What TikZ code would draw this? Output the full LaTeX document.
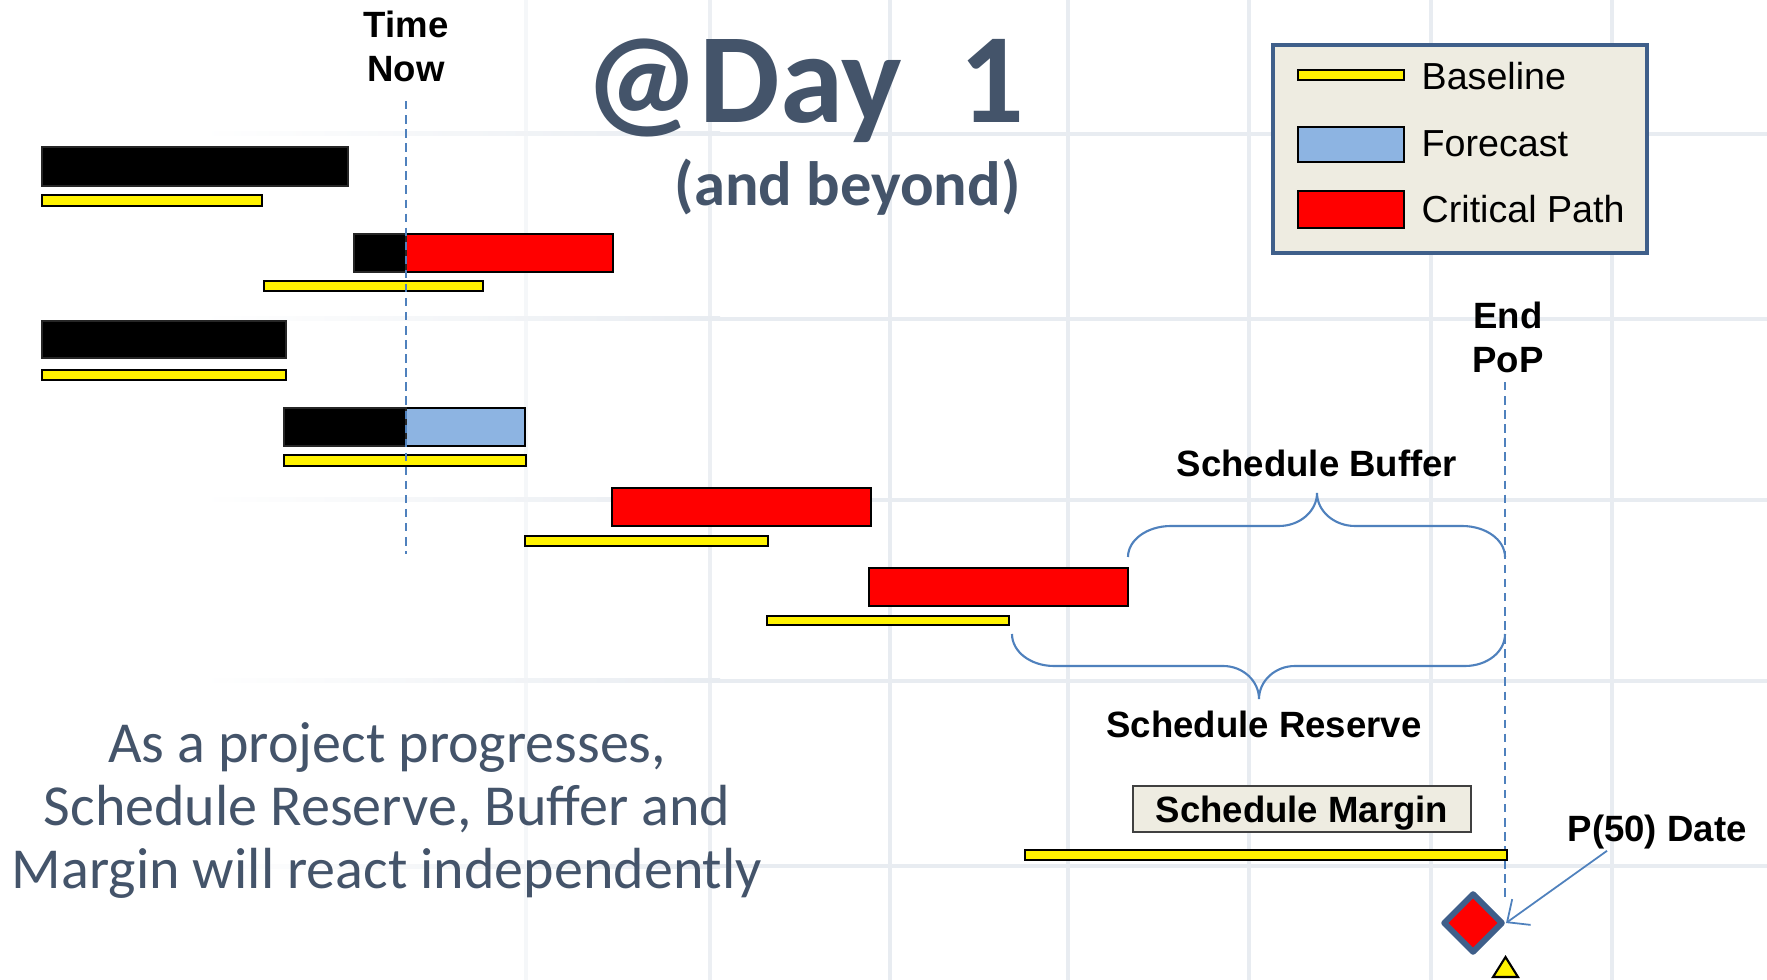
\documentclass[tikz,border=0pt]{standalone}
\usepackage{fontspec}
\setmainfont{Liberation Sans}
\newfontfamily\calib{Carlito}
\usetikzlibrary{shapes.geometric}
\usetikzlibrary{arrows.meta}

\definecolor{slate}{HTML}{44546A}
\definecolor{planblue}{HTML}{4F81BD}
\definecolor{boxedge}{HTML}{3F5F8A}
\definecolor{boxfill}{HTML}{EEECE1}
\definecolor{fcblue}{HTML}{8DB4E2}
\definecolor{gridc}{HTML}{E8ECF1}

\begin{document}
\begin{tikzpicture}[x=0.01cm, y=-0.01cm,
  basebar/.style={draw=black, line width=0.7pt, fill=yellow},
  donebar/.style={draw=black!85, line width=0.5pt, fill=black},
  critbar/.style={draw=black, line width=0.6pt, fill=red},
  fcbar/.style={draw=black, line width=0.6pt, fill=fcblue},
  lbl/.style={font=\fontsize{10.4}{12}\selectfont\bfseries, inner sep=0pt, anchor=base},
  leg/.style={font=\fontsize{10.7}{12}\selectfont, inner sep=0pt, anchor=base west},
  tline/.style={planblue, line width=0.45pt, dash pattern=on 2.4pt off 1.6pt},
  bracepath/.style={planblue, line width=0.6pt},
  gridline/.style={gridc, line width=1.2pt}]
\useasboundingbox (0,0) rectangle (1767,980);
\fill[white] (0,0) rectangle (1767,980);

% faint grid, fading out to the left
\foreach \gx/\op in {526/0.4, 710/0.8, 890/1, 1068/1, 1249/1, 1431/1, 1612/1}
  \draw[gridline, opacity=\op] (\gx,0) -- (\gx,980);
\foreach \gy in {134, 319, 500, 681, 866} {
  \shade[left color=white, right color=gridc] (200,\gy-2) rectangle (720,\gy+2);
  \fill[gridc] (700,\gy-2) rectangle (1767,\gy+2);
}

% title
\node[font=\calib\bfseries\fontsize{36.4}{40}\selectfont, text=slate, anchor=base west, inner sep=0pt] (title) at (584,123) {@Day\ \ 1};
\node[font=\calib\bfseries\fontsize{17.8}{20}\selectfont, text=slate, anchor=base west, inner sep=0pt] (subtitle) at (674,206) {(and beyond)};

% tasks: forecast bar above, baseline below
\draw[donebar] (42,147) rectangle (348,186);
\draw[basebar] (42,195) rectangle (262,206);

\draw[critbar] (406,234) rectangle (613,272);
\draw[donebar] (354,234) rectangle (406,272);
\draw[basebar] (264,281) rectangle (483,291);

\draw[donebar] (42,321) rectangle (286,358);
\draw[basebar] (42,370) rectangle (286,380);

\draw[fcbar] (406,408) rectangle (525,446);
\draw[donebar] (284,408) rectangle (406,446);
\draw[basebar] (284,455) rectangle (526,466);

\draw[critbar] (612,488) rectangle (871,526);
\draw[basebar] (525,536) rectangle (768,546);

\draw[critbar] (869,568) rectangle (1128,606);
\draw[basebar] (767,616) rectangle (1009,625);

% time now
\node[lbl] (timelbl) at (406,37.5) {Time};
\node[lbl] (nowlbl) at (406,82) {Now};
\coordinate (timeend) at (406,554);
\draw[tline] ([yshift=-0.18cm]nowlbl.south) -- (timeend);

% end of PoP
\node[lbl] (endlbl) at (1508,329) {End};
\node[lbl] (poplbl) at (1508,373) {PoP};
\coordinate (popend) at (1505,898);
\draw[tline] ([yshift=-0.08cm]poplbl.south -| popend) -- (popend);

% braces
\draw[bracepath] (1128,557) .. controls (1128,540) and (1147,526) .. (1171,526) -- (1279,526)
  .. controls (1300,526) and (1317,511) .. (1317,493)
  .. controls (1317,511) and (1334,526) .. (1355,526) -- (1462,526)
  .. controls (1486,526) and (1505,540) .. (1505,557);
\node[lbl] (bufferlbl) at (1317,477) {Schedule Buffer};

\draw[bracepath] (1012,634) .. controls (1012,652) and (1031,666) .. (1054,666) -- (1223,666)
  .. controls (1243,666) and (1259,681) .. (1259,699)
  .. controls (1259,681) and (1275,666) .. (1295,666) -- (1465,666)
  .. controls (1487,666) and (1505,652) .. (1505,634);
\node[lbl] (reservelbl) at (1264,738) {Schedule Reserve};

% margin
\node[lbl, draw=black!75, line width=0.6pt, fill=boxfill, minimum width=3.38cm, text height=0.35cm, text depth=0.07cm, inner ysep=0.02cm] (marginlbl) at (1302,823) {Schedule Margin};
\draw[basebar] (1025,850) rectangle (1507,860);

% P(50) milestone
\node[diamond, draw=boxedge, line width=1.7pt, line join=round, fill=red, minimum width=0.6cm, minimum height=0.6cm, inner sep=0pt] (p50dia) at (1473,923) {};
\draw[fill=yellow, line width=0.6pt] (1493,977) -- (1518,977) -- (1505.5,957) -- cycle;
\node[lbl, anchor=base west] (p50lbl) at (1567,841) {P(50) Date};
\draw[planblue, line width=0.5pt, -{Straight Barb[length=5pt, width=9pt]}] ([xshift=0.4cm, yshift=-0.015cm]p50lbl.south west) -- (p50dia.east);

% legend
\draw[draw=boxedge, line width=1.15pt, fill=boxfill] (1273,45) rectangle (1647,253);
\draw[basebar] (1298,70) rectangle (1404,80);
\draw[fcbar] (1298,127) rectangle (1404,162);
\draw[critbar] (1298,191) rectangle (1404,228);
\node[leg] (legbase) at (1421,90) {Baseline};
\node[leg] (legfc) at (1421,157) {Forecast};
\node[leg] (legcrit) at (1421,223) {Critical Path};

% note
\node[font=\calib\fontsize{16.5}{17.9}\selectfont, text=slate, align=center, anchor=base, inner sep=0pt] (note) at (387,888) {As a project progresses,\\Schedule Reserve, Buffer and\\Margin will react independently};
\end{tikzpicture}
\end{document}
